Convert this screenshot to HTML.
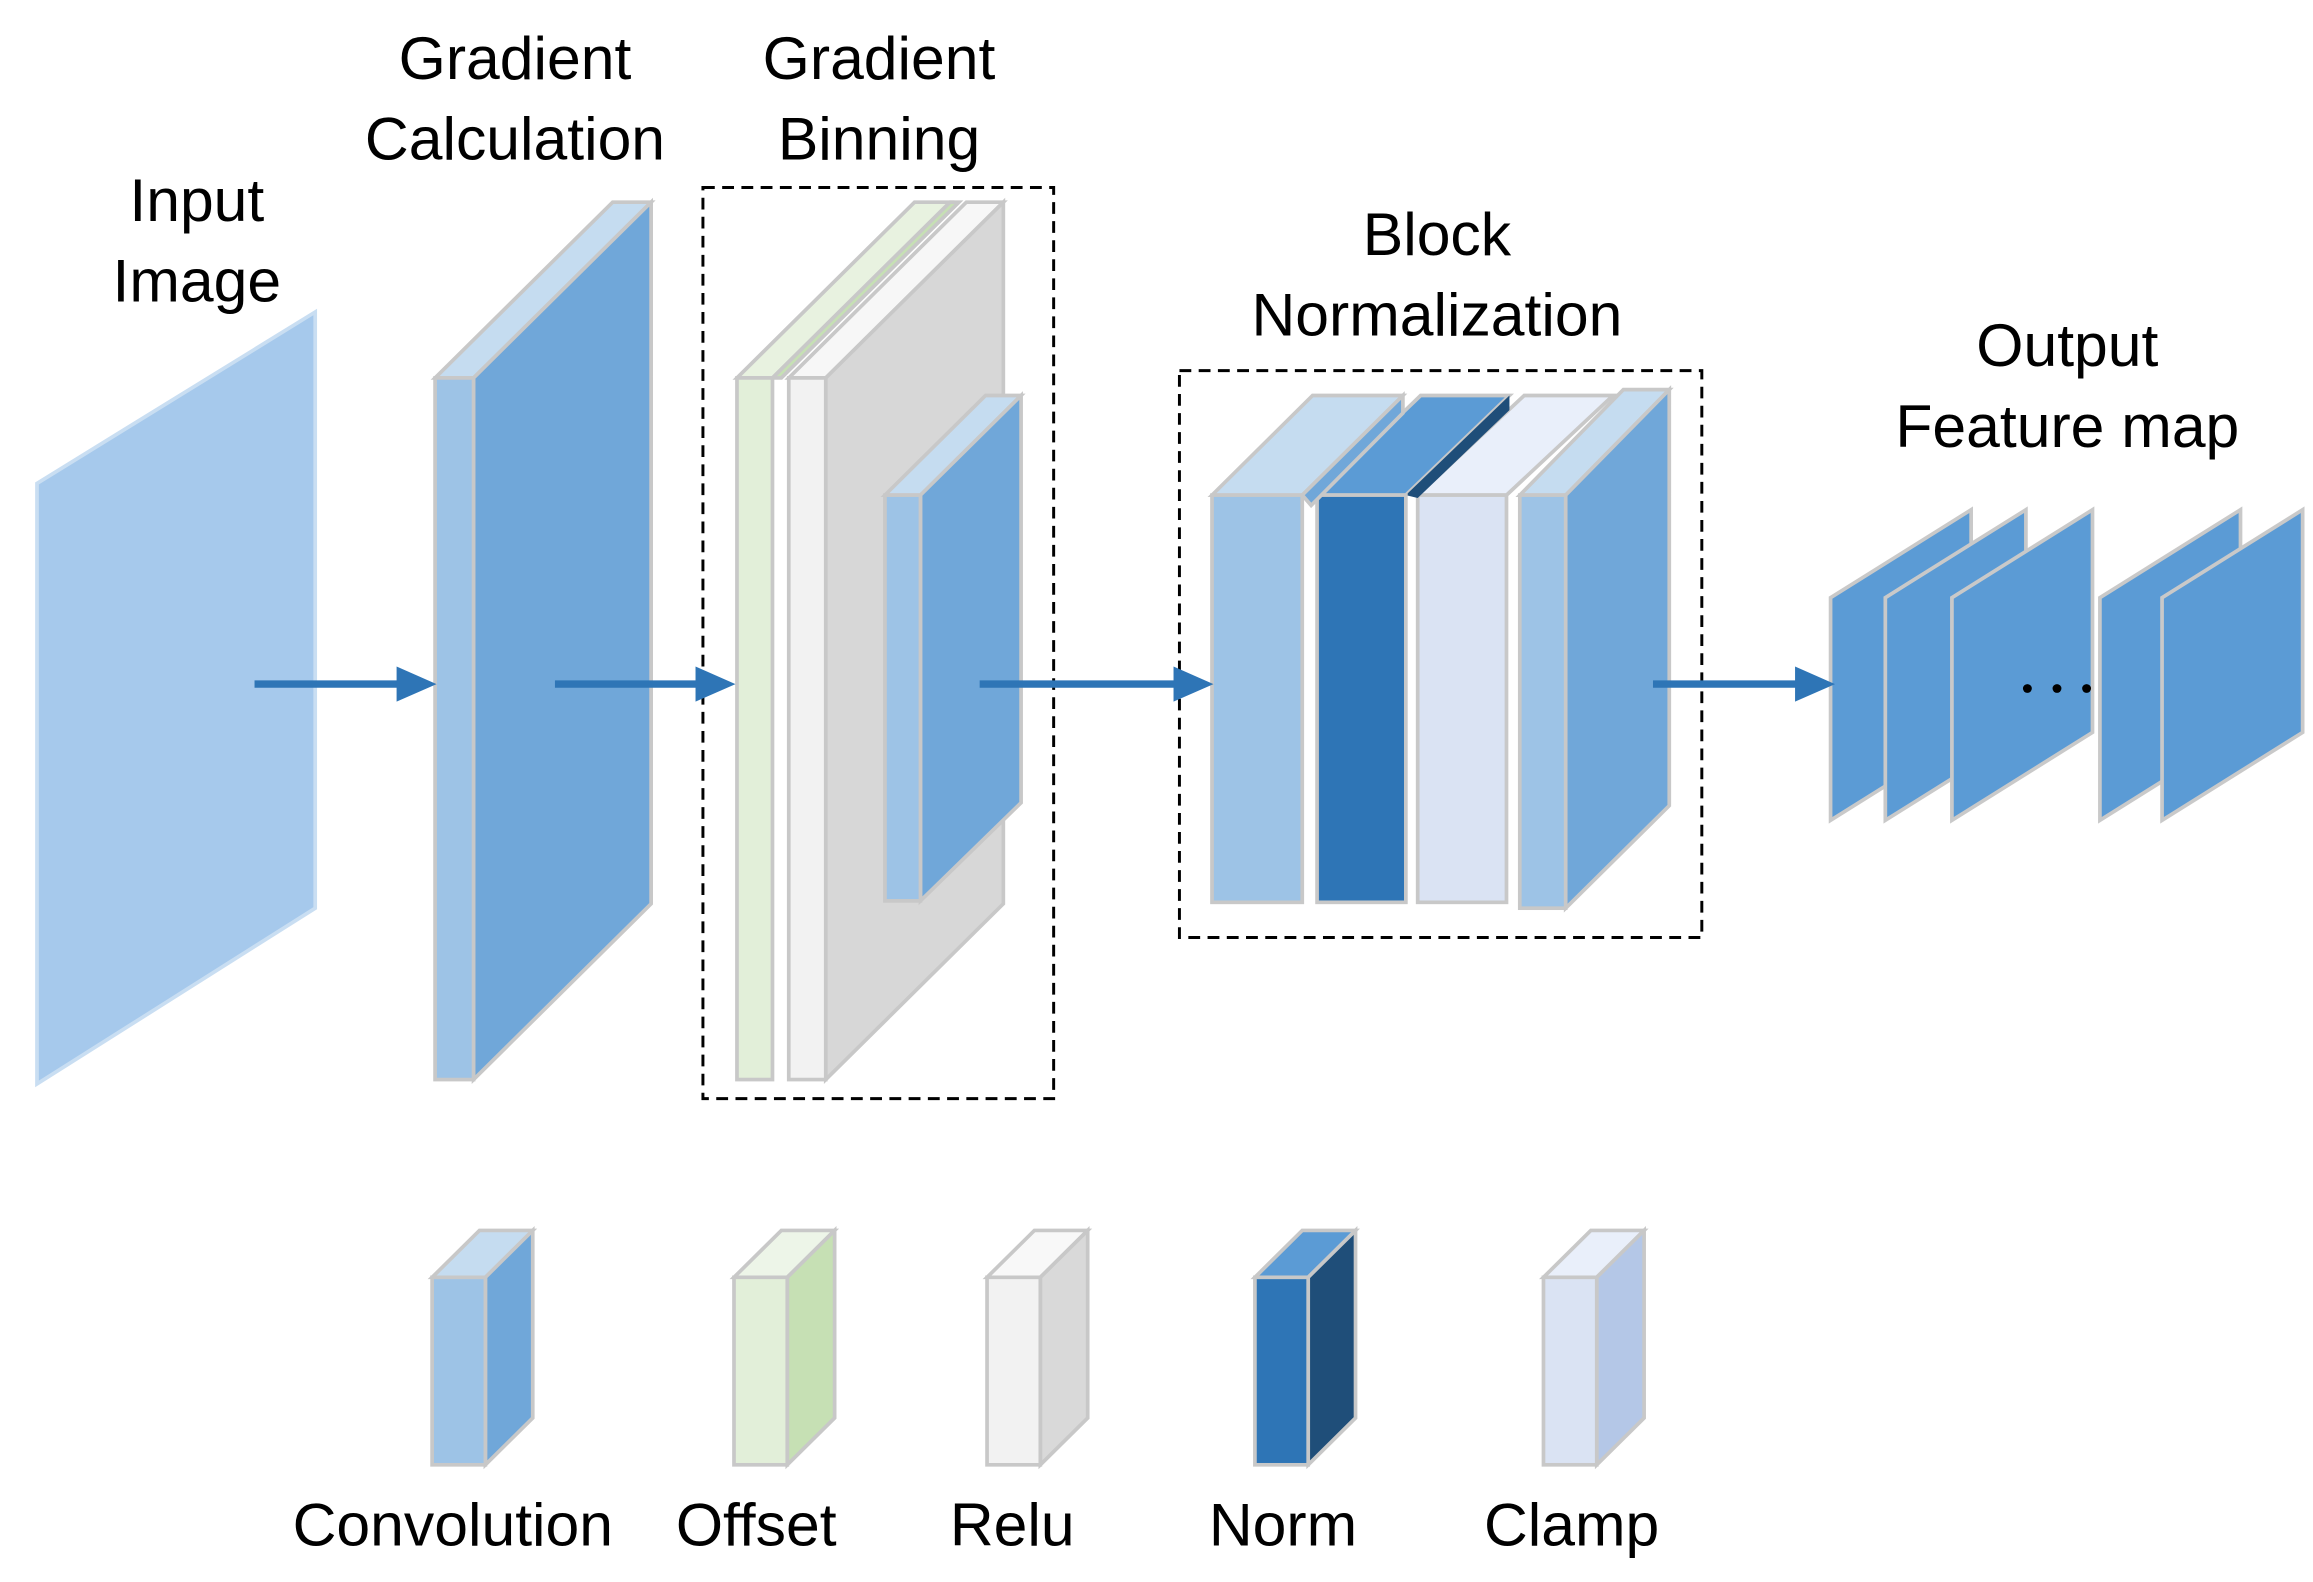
<!DOCTYPE html>
<html><head><meta charset="utf-8"><style>
html,body{margin:0;padding:0;background:#fff}
svg{display:block}
text{font-family:"Liberation Sans",sans-serif;font-size:41px;fill:#000;text-anchor:middle}
</style></head><body>
<svg width="2313" height="1582" viewBox="0 0 1563 1080" preserveAspectRatio="none" xmlns="http://www.w3.org/2000/svg">
<g stroke="#c8c8c8" stroke-width="2.5" stroke-linejoin="miter">
<polygon points="25,330 213,213 213,620 25,740" fill="#a6c9ec" stroke="#c9def2"/>
<polygon points="294,258 320,258 440,138 414,138" fill="#c5dcf0"/>
<polygon points="320,258 440,138 440,617 320,737" fill="#70a7d9"/>
<rect x="294" y="258" width="26" height="479" fill="#9dc3e6"/>
<polygon points="533,258 558,258 678,138 653,138" fill="#f7f7f7"/>
<polygon points="558,258 678,138 678,617 558,737" fill="#d7d7d7"/>
<polygon points="498,258 522,258 642,138 618,138" fill="#e8f2e0"/>
<polygon points="522,258 642,138 648,138 528,258" fill="#c6e0b4"/>
<rect x="498" y="258" width="24" height="479" fill="#e2efd9"/>
<rect x="533" y="258" width="25" height="479" fill="#f2f2f2"/>
<polygon points="598,338 622,338 690,270 666,270" fill="#c5dcf0"/>
<polygon points="622,338 690,270 690,548 622,615" fill="#70a7d9"/>
<rect x="598" y="338" width="24" height="277" fill="#9dc3e6"/>
<polygon points="1027,338 1058,338 1128,266 1097,266" fill="#c5dcf0"/>
<polygon points="1058,338 1128,266 1128,550 1058,620" fill="#70a7d9"/>
<polygon points="958,338 1018,338 1090,270 1030,270" fill="#e9effa"/>
<rect x="958" y="338" width="60" height="278" fill="#dae3f3"/>
<polygon points="890,338 950,338 1020,270 960,270" fill="#5b9bd5"/>
<polygon points="950,338 1020,270 1020,280 958,340" fill="#1f4e79" stroke="none"/>
<rect x="890" y="338" width="60" height="278" fill="#2e75b6"/>
<polygon points="819,338 880,338 948,270 887,270" fill="#c5dcf0"/>
<polygon points="880,338 948,270 948,282 886,345" fill="#70a7d9"/>
<rect x="819" y="338" width="61" height="278" fill="#9dc3e6"/>
<rect x="1027" y="338" width="31" height="282" fill="#9dc3e6"/>
<g fill="#5b9bd5" stroke="#c9c9c9">
<polygon points="1237,408 1332,348 1332,500 1237,560"/>
<polygon points="1274,408 1369,348 1369,500 1274,560"/>
<polygon points="1319,408 1414,348 1414,500 1319,560"/>
<polygon points="1419,408 1514,348 1514,500 1419,560"/>
<polygon points="1461,408 1556,348 1556,500 1461,560"/>
</g>
<polygon points="292,872 328,872 360,840 324,840" fill="#c5dcf0"/>
<polygon points="328,872 360,840 360,968 328,1000" fill="#70a7d9"/>
<rect x="292" y="872" width="36" height="128" fill="#9dc3e6"/>
<polygon points="496,872 532,872 564,840 528,840" fill="#edf5e8"/>
<polygon points="532,872 564,840 564,968 532,1000" fill="#c6e0b4"/>
<rect x="496" y="872" width="36" height="128" fill="#e2efd9"/>
<polygon points="667,872 703,872 735,840 699,840" fill="#f8f8f8"/>
<polygon points="703,872 735,840 735,968 703,1000" fill="#d9d9d9"/>
<rect x="667" y="872" width="36" height="128" fill="#f2f2f2"/>
<polygon points="848,872 884,872 916,840 880,840" fill="#5b9bd5"/>
<polygon points="884,872 916,840 916,968 884,1000" fill="#1f4e79"/>
<rect x="848" y="872" width="36" height="128" fill="#2e75b6"/>
<polygon points="1043,872 1079,872 1111,840 1075,840" fill="#e9effa"/>
<polygon points="1079,872 1111,840 1111,968 1079,1000" fill="#b4c7e7"/>
<rect x="1043" y="872" width="36" height="128" fill="#dae3f3"/>
</g>
<rect x="475" y="128" width="237" height="622" fill="none" stroke="#000" stroke-width="2" stroke-dasharray="8,5"/>
<rect x="797" y="253" width="353" height="387" fill="none" stroke="#000" stroke-width="2" stroke-dasharray="8,5"/>
<g stroke="#2e75b6" stroke-width="5" fill="#2e75b6">
<line x1="172" y1="467" x2="272" y2="467"/><polygon points="268,455 295,467 268,479" stroke="none"/>
<line x1="375" y1="467" x2="474" y2="467"/><polygon points="470,455 497,467 470,479" stroke="none"/>
<line x1="662" y1="467" x2="797" y2="467"/><polygon points="793,455 820,467 793,479" stroke="none"/>
<line x1="1117" y1="467" x2="1217" y2="467"/><polygon points="1213,455 1240,467 1213,479" stroke="none"/>
</g>
<g fill="#000"><circle cx="1370" cy="470" r="3"/><circle cx="1390" cy="470" r="3"/><circle cx="1410" cy="470" r="3"/></g>
<text x="133" y="151">Input</text><text x="133" y="206">Image</text>
<text x="348" y="54">Gradient</text><text x="348" y="109">Calculation</text>
<text x="594" y="54">Gradient</text><text x="594" y="109">Binning</text>
<text x="971" y="174">Block</text><text x="971" y="229">Normalization</text>
<text x="1397" y="250">Output</text><text x="1397" y="305">Feature map</text>
<text x="306" y="1055">Convolution</text>
<text x="511" y="1055">Offset</text>
<text x="684" y="1055">Relu</text>
<text x="867" y="1055">Norm</text>
<text x="1062" y="1055">Clamp</text>
</svg>
</body></html>
